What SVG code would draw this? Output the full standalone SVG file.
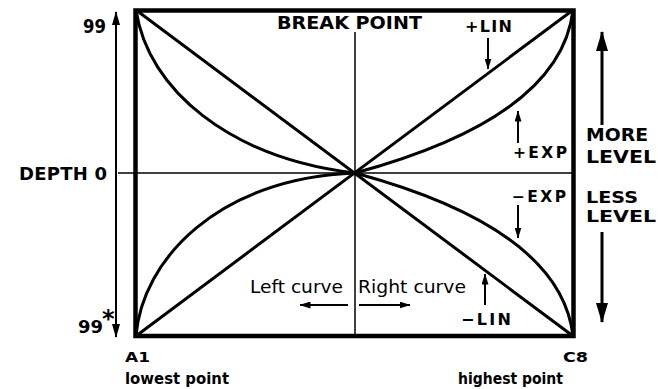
<svg xmlns="http://www.w3.org/2000/svg" width="658" height="389" viewBox="0 0 658 389">
<style>
.t{font-family:"DejaVu Sans","Liberation Sans",Arial,sans-serif;font-weight:bold;fill:#000}
.r{font-family:"DejaVu Sans","Liberation Sans",Arial,sans-serif;font-weight:normal;fill:#000}
.frame{fill:none;stroke:#000;stroke-width:4.5}
.curve{fill:none;stroke:#000;stroke-width:3}
.thin{fill:none;stroke:#000;stroke-width:1.5}
.ax{fill:none;stroke:#000;stroke-width:2}
.big{fill:none;stroke:#000;stroke-width:3}
</style>
<defs>
<marker id="ahAxis" markerUnits="userSpaceOnUse" viewBox="0 0 14 8" markerWidth="14" markerHeight="8" refX="13" refY="4" orient="auto-start-reverse"><path d="M0,0 L14,4 L0,8 z" fill="#000"/></marker>
<marker id="ahBig" markerUnits="userSpaceOnUse" viewBox="0 0 20 12" markerWidth="20" markerHeight="12" refX="19" refY="6" orient="auto"><path d="M0,0 L20,6 L0,12 z" fill="#000"/></marker>
<marker id="ahSmall" markerUnits="userSpaceOnUse" viewBox="0 0 11 7" markerWidth="11" markerHeight="7" refX="10.5" refY="3.5" orient="auto"><path d="M0,0 L11,3.5 L0,7 z" fill="#000"/></marker>
</defs>
<rect width="658" height="389" fill="#fff"/>

<g id="frame">
<rect class="frame" x="135.5" y="10.5" width="438" height="325.5"/>
<line class="thin" x1="355" y1="32" x2="355" y2="336"/>
<line class="thin" x1="118" y1="173" x2="573" y2="173"/>
</g>

<g id="curves">
<line id="lin-down" class="curve" x1="136" y1="10" x2="573" y2="336"/>
<line id="lin-up" class="curve" x1="136" y1="336" x2="573" y2="10"/>
<path id="exp-upper-left" class="curve" d="M136,10 C148,90 230,158 355,173"/>
<path id="exp-lower-left" class="curve" d="M136,336 C142,260 218,178 355,173"/>
<path id="exp-upper-right" class="curve" d="M355,173 C440,150 562,105 573,10"/>
<path id="exp-lower-right" class="curve" d="M355,173 C440,196 562,241 573,336"/>
</g>

<g id="connectors">
<line class="ax" x1="116" y1="12" x2="116" y2="337" marker-start="url(#ahAxis)" marker-end="url(#ahAxis)"/>
<line class="big" x1="602" y1="125" x2="602" y2="32" marker-end="url(#ahBig)"/>
<line class="big" x1="602" y1="232" x2="602" y2="322" marker-end="url(#ahBig)"/>
<line class="ax" x1="488" y1="38" x2="488" y2="69" marker-end="url(#ahSmall)"/>
<line class="ax" x1="518" y1="143" x2="518" y2="111" marker-end="url(#ahSmall)"/>
<line class="ax" x1="518" y1="205" x2="518" y2="238" marker-end="url(#ahSmall)"/>
<line class="ax" x1="485" y1="305" x2="485" y2="274" marker-end="url(#ahSmall)"/>
<line class="ax" x1="348" y1="305" x2="300" y2="305" marker-end="url(#ahSmall)"/>
<line class="ax" x1="359" y1="305" x2="410" y2="305" marker-end="url(#ahSmall)"/>
</g>

<g id="labels">
<text class="t" x="106" y="33" font-size="19" text-anchor="end" textLength="23" lengthAdjust="spacingAndGlyphs">99</text>
<text class="t" x="19" y="180" font-size="18" textLength="88" lengthAdjust="spacing">DEPTH 0</text>
<text class="t" x="78" y="333" font-size="18"><tspan textLength="25" lengthAdjust="spacingAndGlyphs">99</tspan><tspan font-size="24" dx="-1" dy="-6">*</tspan></text>
<text class="t" x="277" y="29" font-size="18" textLength="145" lengthAdjust="spacingAndGlyphs">BREAK POINT</text>
<text class="t" x="465" y="32" font-size="16" textLength="47" lengthAdjust="spacing">+LIN</text>
<text class="t" x="513" y="158" font-size="15.5" textLength="54" lengthAdjust="spacing">+EXP</text>
<text class="t" x="512" y="202" font-size="15.5" textLength="54" lengthAdjust="spacing">−EXP</text>
<text class="t" x="461" y="325" font-size="16" textLength="50" lengthAdjust="spacing">−LIN</text>
<text class="t" x="586" y="141" font-size="18" textLength="62" lengthAdjust="spacingAndGlyphs">MORE</text>
<text class="t" x="586" y="163" font-size="18" textLength="70" lengthAdjust="spacingAndGlyphs">LEVEL</text>
<text class="t" x="586" y="203" font-size="16" textLength="52" lengthAdjust="spacingAndGlyphs">LESS</text>
<text class="t" x="586" y="222" font-size="16" textLength="70" lengthAdjust="spacingAndGlyphs">LEVEL</text>
<text class="r" x="250" y="293" font-size="18" textLength="93" lengthAdjust="spacingAndGlyphs">Left curve</text>
<text class="r" x="358" y="293" font-size="18" textLength="108" lengthAdjust="spacingAndGlyphs">Right curve</text>
<text class="t" x="125" y="362" font-size="14.5" textLength="25" lengthAdjust="spacingAndGlyphs">A1</text>
<text class="t" x="563" y="362" font-size="14.5" textLength="25" lengthAdjust="spacingAndGlyphs">C8</text>
<text class="t" x="125" y="384" font-size="15.5" textLength="104" lengthAdjust="spacingAndGlyphs">lowest point</text>
<text class="t" x="458" y="384" font-size="15.5" textLength="105" lengthAdjust="spacingAndGlyphs">highest point</text>
</g>
</svg>
